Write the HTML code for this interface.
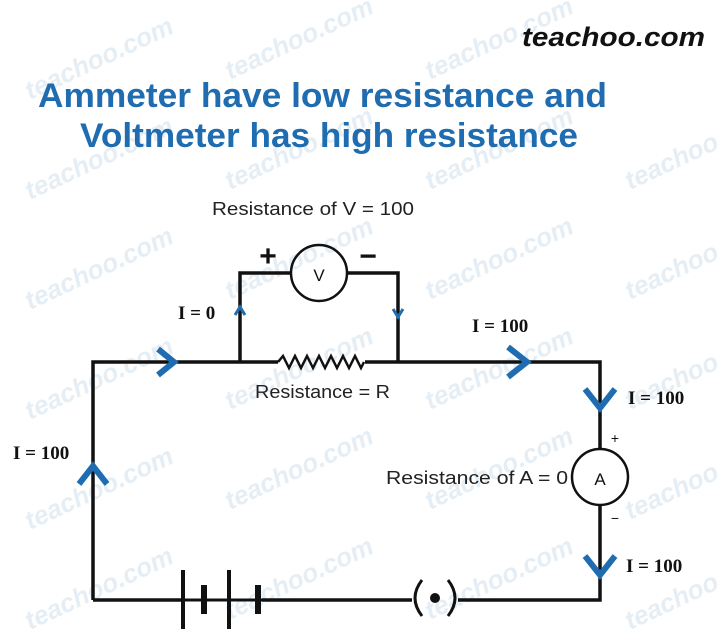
<!DOCTYPE html>
<html><head><style>
html,body{margin:0;padding:0;background:#fff;}
svg{display:block}
</style></head><body>
<svg width="720" height="629" viewBox="0 0 720 629" xmlns="http://www.w3.org/2000/svg">
<rect width="720" height="629" fill="#fff"/>
<g fill="#e6eef5" font-family="Liberation Sans, sans-serif" font-style="italic" font-weight="bold" font-size="26">
  <text transform="translate(30,100) rotate(-25)">teachoo.com</text>
  <text transform="translate(230,80) rotate(-25)">teachoo.com</text>
  <text transform="translate(430,80) rotate(-25)">teachoo.com</text>
  <text transform="translate(30,200) rotate(-25)">teachoo.com</text>
  <text transform="translate(230,190) rotate(-25)">teachoo.com</text>
  <text transform="translate(430,190) rotate(-25)">teachoo.com</text>
  <text transform="translate(630,190) rotate(-25)">teachoo.com</text>
  <text transform="translate(30,310) rotate(-25)">teachoo.com</text>
  <text transform="translate(230,300) rotate(-25)">teachoo.com</text>
  <text transform="translate(430,300) rotate(-25)">teachoo.com</text>
  <text transform="translate(630,300) rotate(-25)">teachoo.com</text>
  <text transform="translate(30,420) rotate(-25)">teachoo.com</text>
  <text transform="translate(230,410) rotate(-25)">teachoo.com</text>
  <text transform="translate(430,410) rotate(-25)">teachoo.com</text>
  <text transform="translate(630,410) rotate(-25)">teachoo.com</text>
  <text transform="translate(30,530) rotate(-25)">teachoo.com</text>
  <text transform="translate(230,510) rotate(-25)">teachoo.com</text>
  <text transform="translate(430,510) rotate(-25)">teachoo.com</text>
  <text transform="translate(630,520) rotate(-25)">teachoo.com</text>
  <text transform="translate(30,630) rotate(-25)">teachoo.com</text>
  <text transform="translate(230,620) rotate(-25)">teachoo.com</text>
  <text transform="translate(430,620) rotate(-25)">teachoo.com</text>
  <text transform="translate(630,630) rotate(-25)">teachoo.com</text>
</g>
<text x="522" y="46" textLength="183" lengthAdjust="spacingAndGlyphs" font-family="Liberation Sans, sans-serif" font-style="italic" font-weight="bold" font-size="27" fill="#111">teachoo.com</text>
<g font-family="Liberation Sans, sans-serif" font-weight="bold" font-size="34" fill="#1f6db0">
  <text x="38" y="107" textLength="569" lengthAdjust="spacingAndGlyphs">Ammeter have low resistance and</text>
  <text x="80" y="147" textLength="498" lengthAdjust="spacingAndGlyphs">Voltmeter has high resistance</text>
</g>
<g font-family="Liberation Sans, sans-serif" font-size="18" fill="#222">
  <text x="212" y="215" textLength="202" lengthAdjust="spacingAndGlyphs">Resistance of V = 100</text>
  <text x="255" y="398" textLength="135" lengthAdjust="spacingAndGlyphs">Resistance = R</text>
  <text x="386" y="484" textLength="182" lengthAdjust="spacingAndGlyphs">Resistance of A = 0</text>
</g>
<g font-family="Liberation Serif, serif" font-size="19" font-weight="bold" fill="#111">
  <text x="178" y="319">I = 0</text>
  <text x="472" y="332">I = 100</text>
  <text x="628" y="404">I = 100</text>
  <text x="13" y="459">I = 100</text>
  <text x="626" y="572">I = 100</text>
</g>
<g stroke="#111" stroke-width="3.5" fill="none">
  <path d="M93 600 V362 H278 M365 362 H600 V449 M600 505 V600 H458 M412 600 H262 M183 600 H93"/>
  <path d="M240 362 V273 H291 M347 273 H398 V362"/>
  <path d="M278 362 l5 -6 l6 12 l6 -12 l6 12 l6 -12 l6 12 l6 -12 l6 12 l6 -12 l6 12 l6 -12 l6 12 l6 -12 l6 12 l3 -6" stroke-width="2.5"/>
  <circle cx="319" cy="273" r="28" stroke-width="2.5"/>
  <circle cx="600" cy="477" r="28" stroke-width="2.5"/>
  <path d="M183 570 V629 M229 570 V629" stroke-width="4"/>
  <path d="M204 585 V614 M258 585 V614" stroke-width="6"/>
  <path d="M183 600 H262" stroke-width="3"/>
  <path d="M422 580 Q408 598 422 616 M448 580 Q462 598 448 616" stroke-width="3"/>
</g>
<circle cx="435" cy="598" r="5" fill="#111"/>
<g font-family="Liberation Sans, sans-serif" fill="#111" text-anchor="middle">
  <text x="319" y="281" font-size="17">V</text>
  <text x="600" y="485" font-size="17">A</text>
  <text x="268" y="266" font-size="30" font-weight="bold">+</text>
  <text x="368" y="266" font-size="30" font-weight="bold">−</text>
  <text x="615" y="443" font-size="14">+</text>
  <text x="615" y="523" font-size="14">−</text>
</g>
<g fill="none" stroke="#1f6db0" stroke-width="6" stroke-linejoin="miter" stroke-linecap="butt">
  <path d="M158 349 L174 362 L158 375"/>
  <path d="M508 347 L527 362 L508 377"/>
  <path d="M585 389 L600 408 L615 389"/>
  <path d="M585 556 L600 575 L615 556"/>
  <path d="M79 484 L93 466 L107 484"/>
</g>
<g fill="none" stroke="#1f6db0" stroke-width="3">
  <path d="M235 315 L240 307 L245 315"/>
  <path d="M393 309 L398 317 L403 309"/>
</g>
</svg>
</body></html>
